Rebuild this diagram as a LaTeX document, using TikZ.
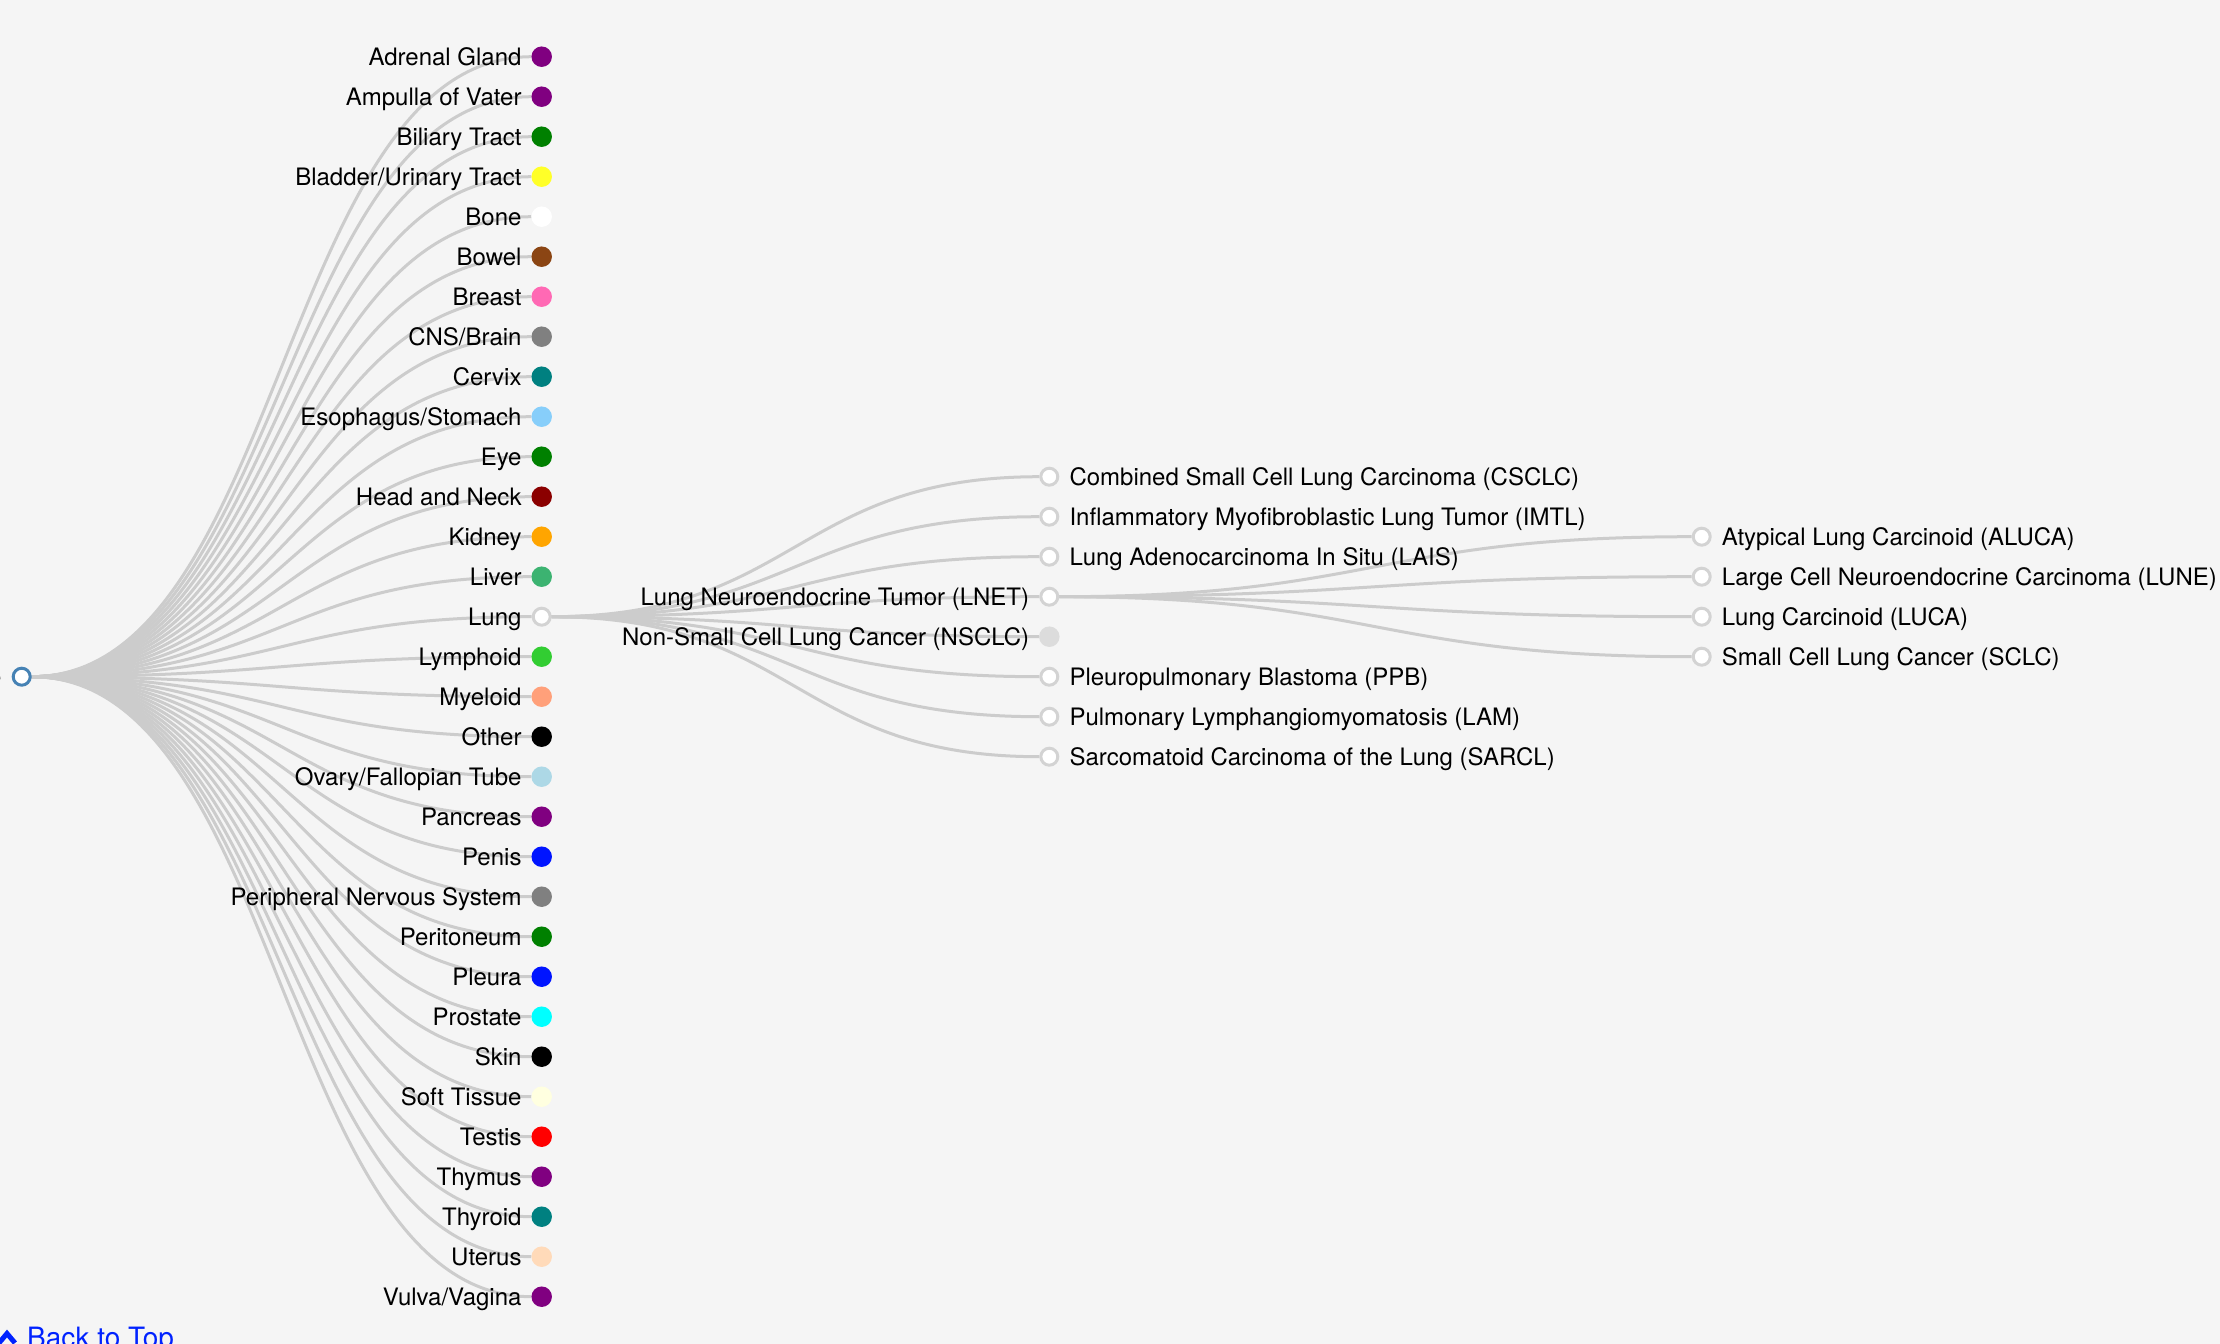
\documentclass[tikz,border=0pt]{standalone}
\usepackage{fontspec}
\setmainfont{TeX Gyre Heros}

\definecolor{paper}{RGB}{245,245,245}
\definecolor{linkgray}{RGB}{204,204,204}
\definecolor{ringgray}{RGB}{211,211,211}
\definecolor{rootblue}{RGB}{70,130,180}
\definecolor{topblue}{RGB}{0,34,255}
\definecolor{cPurple}{RGB}{128,0,128}
\definecolor{cGreen}{RGB}{0,128,0}
\definecolor{cYellow}{RGB}{255,255,40}
\definecolor{cBrown}{RGB}{139,69,19}
\definecolor{cPink}{RGB}{255,105,180}
\definecolor{cGray}{RGB}{128,128,128}
\definecolor{cTeal}{RGB}{0,128,128}
\definecolor{cSky}{RGB}{135,206,250}
\definecolor{cDarkRed}{RGB}{139,0,0}
\definecolor{cOrange}{RGB}{255,165,0}
\definecolor{cSeaGreen}{RGB}{60,179,113}
\definecolor{cLime}{RGB}{50,205,50}
\definecolor{cSalmon}{RGB}{255,160,122}
\definecolor{cLightBlue}{RGB}{173,216,230}
\definecolor{cBlue}{RGB}{0,20,255}
\definecolor{cCyan}{RGB}{0,255,255}
\definecolor{cLightYellow}{RGB}{255,255,224}
\definecolor{cRed}{RGB}{255,0,0}
\definecolor{cPeach}{RGB}{255,218,185}
\definecolor{cGainsboro}{RGB}{220,220,220}

\pgfdeclarelayer{bg}
\pgfdeclarelayer{links}
\pgfsetlayers{bg,links,main}

\begin{document}
\begin{tikzpicture}[x=1pt,y=-1pt,font=\fontsize{24}{28}\selectfont,
  link/.style={draw=linkgray,line width=3pt},
  dot/.style={circle,inner sep=0pt,minimum size=20.5pt,fill=#1},
  ring/.style={circle,inner sep=0pt,minimum size=17pt,line width=3pt,draw=#1,fill=white},
  tl/.style={anchor=base east,inner sep=0pt,xshift=-20pt,yshift=-8.5pt},
  tr/.style={anchor=base west,inner sep=0pt,xshift=20pt,yshift=-8.5pt}]

  \begin{pgfonlayer}{bg}
    \fill[paper] (0,0) rectangle (2220,1344);
  \end{pgfonlayer}
  \useasboundingbox (0,0) rectangle (2220,1344);

  % root
  \node[ring=rootblue] (root) at (21.7,676.7) {};
  \node[tl] (root-t) at (root) {e};

  % tissues
  \node[dot=cPurple] (adr) at (541.7,56.7) {};
  \node[tl] (adr-t) at (adr) {Adrenal Gland};
  \node[dot=cPurple] (amp) at (541.7,96.7) {};
  \node[tl] (amp-t) at (amp) {Ampulla of Vater};
  \node[dot=cGreen] (bil) at (541.7,136.7) {};
  \node[tl] (bil-t) at (bil) {Biliary Tract};
  \node[dot=cYellow] (bld) at (541.7,176.7) {};
  \node[tl] (bld-t) at (bld) {Bladder/Urinary Tract};
  \node[dot=white] (bone) at (541.7,216.7) {};
  \node[tl] (bone-t) at (bone) {Bone};
  \node[dot=cBrown] (bowel) at (541.7,256.7) {};
  \node[tl] (bowel-t) at (bowel) {Bowel};
  \node[dot=cPink] (breast) at (541.7,296.7) {};
  \node[tl] (breast-t) at (breast) {Breast};
  \node[dot=cGray] (cns) at (541.7,336.7) {};
  \node[tl] (cns-t) at (cns) {CNS/Brain};
  \node[dot=cTeal] (cervix) at (541.7,376.7) {};
  \node[tl] (cervix-t) at (cervix) {Cervix};
  \node[dot=cSky] (eso) at (541.7,416.7) {};
  \node[tl] (eso-t) at (eso) {Esophagus/Stomach};
  \node[dot=cGreen] (eye) at (541.7,456.7) {};
  \node[tl] (eye-t) at (eye) {Eye};
  \node[dot=cDarkRed] (hn) at (541.7,496.7) {};
  \node[tl] (hn-t) at (hn) {Head and Neck};
  \node[dot=cOrange] (kidney) at (541.7,536.7) {};
  \node[tl] (kidney-t) at (kidney) {Kidney};
  \node[dot=cSeaGreen] (liver) at (541.7,576.7) {};
  \node[tl] (liver-t) at (liver) {Liver};
  \node[ring=ringgray] (lung) at (541.7,616.7) {};
  \node[tl] (lung-t) at (lung) {Lung};
  \node[dot=cLime] (lymph) at (541.7,656.7) {};
  \node[tl] (lymph-t) at (lymph) {Lymphoid};
  \node[dot=cSalmon] (myel) at (541.7,696.7) {};
  \node[tl] (myel-t) at (myel) {Myeloid};
  \node[dot=black] (other) at (541.7,736.7) {};
  \node[tl] (other-t) at (other) {Other};
  \node[dot=cLightBlue] (ovary) at (541.7,776.7) {};
  \node[tl] (ovary-t) at (ovary) {Ovary/Fallopian Tube};
  \node[dot=cPurple] (panc) at (541.7,816.7) {};
  \node[tl] (panc-t) at (panc) {Pancreas};
  \node[dot=cBlue] (penis) at (541.7,856.7) {};
  \node[tl] (penis-t) at (penis) {Penis};
  \node[dot=cGray] (pns) at (541.7,896.7) {};
  \node[tl] (pns-t) at (pns) {Peripheral Nervous System};
  \node[dot=cGreen] (perit) at (541.7,936.7) {};
  \node[tl] (perit-t) at (perit) {Peritoneum};
  \node[dot=cBlue] (pleura) at (541.7,976.7) {};
  \node[tl] (pleura-t) at (pleura) {Pleura};
  \node[dot=cCyan] (prost) at (541.7,1016.7) {};
  \node[tl] (prost-t) at (prost) {Prostate};
  \node[dot=black] (skin) at (541.7,1056.7) {};
  \node[tl] (skin-t) at (skin) {Skin};
  \node[dot=cLightYellow] (soft) at (541.7,1096.7) {};
  \node[tl] (soft-t) at (soft) {Soft Tissue};
  \node[dot=cRed] (testis) at (541.7,1136.7) {};
  \node[tl] (testis-t) at (testis) {Testis};
  \node[dot=cPurple] (thymus) at (541.7,1176.7) {};
  \node[tl] (thymus-t) at (thymus) {Thymus};
  \node[dot=cTeal] (thyroid) at (541.7,1216.7) {};
  \node[tl] (thyroid-t) at (thyroid) {Thyroid};
  \node[dot=cPeach] (uterus) at (541.7,1256.7) {};
  \node[tl] (uterus-t) at (uterus) {Uterus};
  \node[dot=cPurple] (vulva) at (541.7,1296.7) {};
  \node[tl] (vulva-t) at (vulva) {Vulva/Vagina};

  % lung subtypes
  \node[ring=ringgray] (csclc) at (1049.3,476.7) {};
  \node[tr] (csclc-t) at (csclc) {Combined Small Cell Lung Carcinoma (CSCLC)};
  \node[ring=ringgray] (imtl) at (1049.3,516.7) {};
  \node[tr] (imtl-t) at (imtl) {Inflammatory Myofibroblastic Lung Tumor (IMTL)};
  \node[ring=ringgray] (lais) at (1049.3,556.7) {};
  \node[tr] (lais-t) at (lais) {Lung Adenocarcinoma In Situ (LAIS)};
  \node[ring=ringgray] (lnet) at (1049.3,596.7) {};
  \node[tl] (lnet-t) at (lnet) {Lung Neuroendocrine Tumor (LNET)};
  \node[dot=cGainsboro] (nsclc) at (1049.3,636.7) {};
  \node[tl] (nsclc-t) at (nsclc) {Non-Small Cell Lung Cancer (NSCLC)};
  \node[ring=ringgray] (ppb) at (1049.3,676.7) {};
  \node[tr] (ppb-t) at (ppb) {Pleuropulmonary Blastoma (PPB)};
  \node[ring=ringgray] (lam) at (1049.3,716.7) {};
  \node[tr] (lam-t) at (lam) {Pulmonary Lymphangiomyomatosis (LAM)};
  \node[ring=ringgray] (sarcl) at (1049.3,756.7) {};
  \node[tr] (sarcl-t) at (sarcl) {Sarcomatoid Carcinoma of the Lung (SARCL)};

  % neuroendocrine subtypes
  \node[ring=ringgray] (aluca) at (1701.7,536.7) {};
  \node[tr] (aluca-t) at (aluca) {Atypical Lung Carcinoid (ALUCA)};
  \node[ring=ringgray] (lune) at (1701.7,576.7) {};
  \node[tr] (lune-t) at (lune) {Large Cell Neuroendocrine Carcinoma (LUNE)};
  \node[ring=ringgray] (luca) at (1701.7,616.7) {};
  \node[tr] (luca-t) at (luca) {Lung Carcinoid (LUCA)};
  \node[ring=ringgray] (sclc) at (1701.7,656.7) {};
  \node[tr] (sclc-t) at (sclc) {Small Cell Lung Cancer (SCLC)};

  \begin{pgfonlayer}{links}
    \draw[link] (root) .. controls +(260,0) and +(-260,0) .. (adr);
    \draw[link] (root) .. controls +(260,0) and +(-260,0) .. (amp);
    \draw[link] (root) .. controls +(260,0) and +(-260,0) .. (bil);
    \draw[link] (root) .. controls +(260,0) and +(-260,0) .. (bld);
    \draw[link] (root) .. controls +(260,0) and +(-260,0) .. (bone);
    \draw[link] (root) .. controls +(260,0) and +(-260,0) .. (bowel);
    \draw[link] (root) .. controls +(260,0) and +(-260,0) .. (breast);
    \draw[link] (root) .. controls +(260,0) and +(-260,0) .. (cns);
    \draw[link] (root) .. controls +(260,0) and +(-260,0) .. (cervix);
    \draw[link] (root) .. controls +(260,0) and +(-260,0) .. (eso);
    \draw[link] (root) .. controls +(260,0) and +(-260,0) .. (eye);
    \draw[link] (root) .. controls +(260,0) and +(-260,0) .. (hn);
    \draw[link] (root) .. controls +(260,0) and +(-260,0) .. (kidney);
    \draw[link] (root) .. controls +(260,0) and +(-260,0) .. (liver);
    \draw[link] (root) .. controls +(260,0) and +(-260,0) .. (lung);
    \draw[link] (root) .. controls +(260,0) and +(-260,0) .. (lymph);
    \draw[link] (root) .. controls +(260,0) and +(-260,0) .. (myel);
    \draw[link] (root) .. controls +(260,0) and +(-260,0) .. (other);
    \draw[link] (root) .. controls +(260,0) and +(-260,0) .. (ovary);
    \draw[link] (root) .. controls +(260,0) and +(-260,0) .. (panc);
    \draw[link] (root) .. controls +(260,0) and +(-260,0) .. (penis);
    \draw[link] (root) .. controls +(260,0) and +(-260,0) .. (pns);
    \draw[link] (root) .. controls +(260,0) and +(-260,0) .. (perit);
    \draw[link] (root) .. controls +(260,0) and +(-260,0) .. (pleura);
    \draw[link] (root) .. controls +(260,0) and +(-260,0) .. (prost);
    \draw[link] (root) .. controls +(260,0) and +(-260,0) .. (skin);
    \draw[link] (root) .. controls +(260,0) and +(-260,0) .. (soft);
    \draw[link] (root) .. controls +(260,0) and +(-260,0) .. (testis);
    \draw[link] (root) .. controls +(260,0) and +(-260,0) .. (thymus);
    \draw[link] (root) .. controls +(260,0) and +(-260,0) .. (thyroid);
    \draw[link] (root) .. controls +(260,0) and +(-260,0) .. (uterus);
    \draw[link] (root) .. controls +(260,0) and +(-260,0) .. (vulva);

    \draw[link] (lung) .. controls +(254,0) and +(-254,0) .. (csclc);
    \draw[link] (lung) .. controls +(254,0) and +(-254,0) .. (imtl);
    \draw[link] (lung) .. controls +(254,0) and +(-254,0) .. (lais);
    \draw[link] (lung) .. controls +(254,0) and +(-254,0) .. (lnet);
    \draw[link] (lung) .. controls +(254,0) and +(-254,0) .. (nsclc);
    \draw[link] (lung) .. controls +(254,0) and +(-254,0) .. (ppb);
    \draw[link] (lung) .. controls +(254,0) and +(-254,0) .. (lam);
    \draw[link] (lung) .. controls +(254,0) and +(-254,0) .. (sarcl);

    \draw[link] (lnet) .. controls +(326,0) and +(-326,0) .. (aluca);
    \draw[link] (lnet) .. controls +(326,0) and +(-326,0) .. (lune);
    \draw[link] (lnet) .. controls +(326,0) and +(-326,0) .. (luca);
    \draw[link] (lnet) .. controls +(326,0) and +(-326,0) .. (sclc);
  \end{pgfonlayer}

  % back to top link
  \draw[topblue,line width=5pt] (-1,1343) -- (7,1333.5) -- (15,1343);
  \node[anchor=base west,inner sep=0pt,text=topblue,font=\fontsize{28}{32}\selectfont]
    (top) at (27,1347) {Back to Top};
\end{tikzpicture}
\end{document}
